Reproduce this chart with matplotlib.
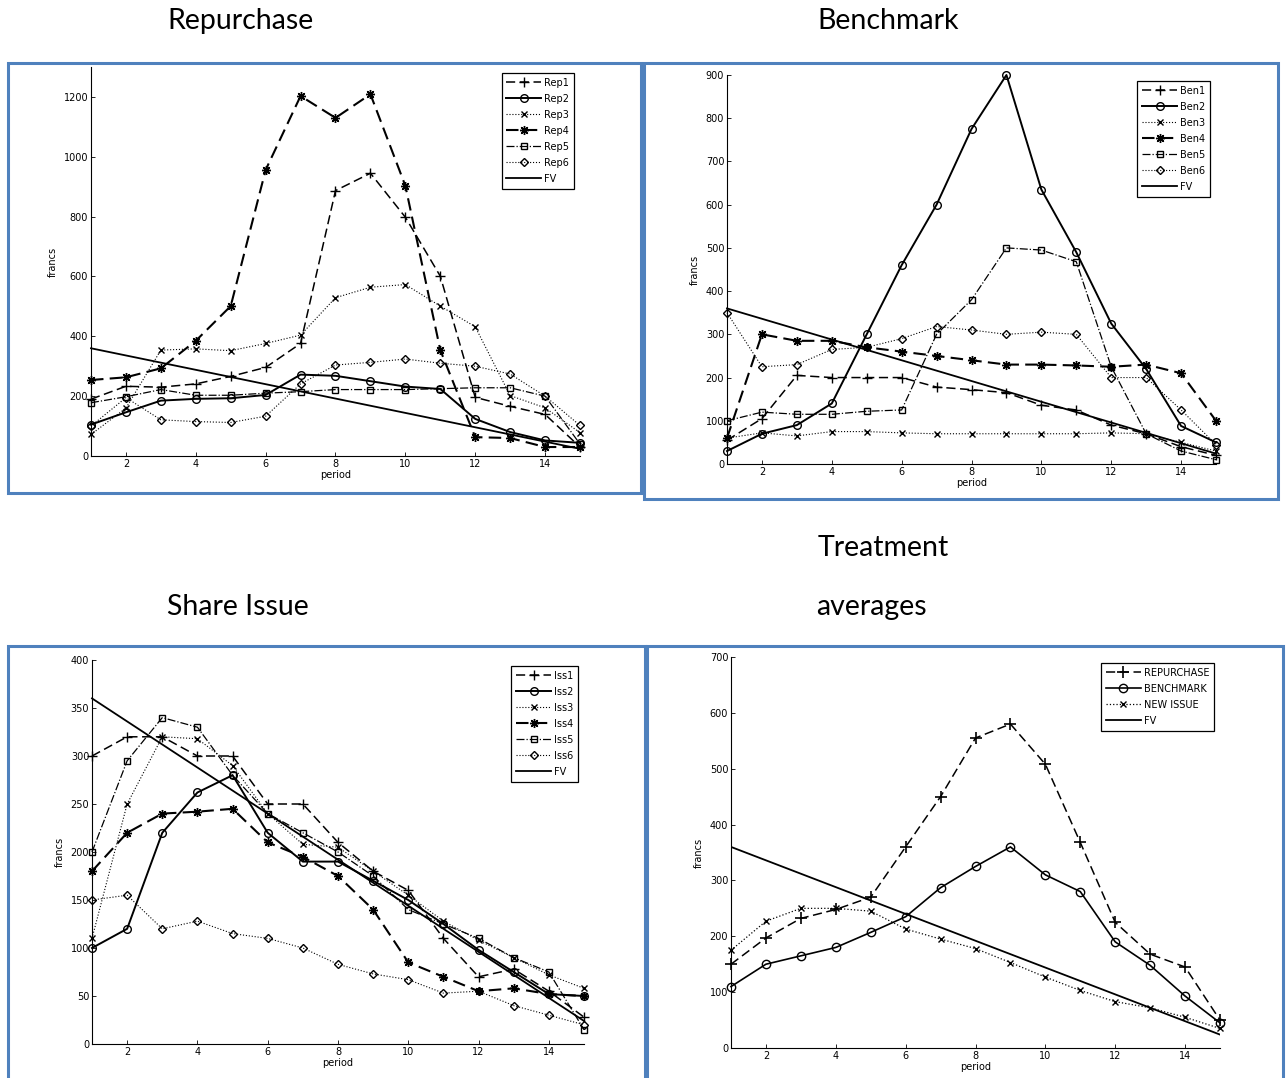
import numpy as np
import matplotlib.pyplot as plt
from matplotlib.patches import Rectangle

periods = np.arange(1, 16)

# fundamental value, declining each period
fv = [360, 336, 312, 288, 264, 240, 216, 192, 168, 144, 120, 96, 72, 48, 24]

# Repurchase sessions
rep1 = [190, 233, 230, 241, 266, 296, 376, 887, 945, 798, 601, 196, 166, 139, 30]
rep2 = [105, 146, 185, 191, 193, 204, 272, 268, 250, 232, 224, 124, 80, 52, 44]
rep3 = [72, 160, 354, 358, 352, 376, 404, 529, 564, 573, 501, 432, 202, 161, 78]
rep4 = [254, 263, 293, 385, 501, 956, 1203, 1130, 1209, 903, 354, 63, 60, 30, 30]
rep5 = [178, 198, 222, 203, 203, 210, 215, 222, 222, 222, 225, 228, 228, 200, 40]
rep6 = [100, 195, 121, 115, 112, 133, 241, 304, 313, 324, 310, 300, 274, 200, 102]

# Benchmark sessions
ben1 = [55, 105, 205, 200, 200, 200, 178, 172, 165, 136, 125, 90, 70, 40, 20]
ben2 = [30, 70, 90, 140, 300, 460, 600, 775, 900, 635, 490, 325, 220, 88, 50]
ben3 = [60, 72, 65, 75, 75, 72, 70, 70, 70, 70, 70, 72, 70, 50, 30]
ben4 = [60, 300, 285, 285, 270, 260, 250, 240, 230, 230, 228, 225, 230, 210, 100]
ben5 = [100, 120, 115, 115, 122, 125, 300, 380, 500, 495, 468, 225, 70, 30, 10]
ben6 = [350, 225, 230, 265, 270, 290, 318, 310, 300, 305, 300, 200, 200, 125, 45]

# Share issue sessions
iss1 = [300, 320, 320, 300, 300, 250, 250, 210, 180, 160, 110, 70, 78, 55, 28]
iss2 = [100, 120, 220, 262, 280, 220, 190, 190, 170, 150, 125, 98, 75, 52, 50]
iss3 = [110, 250, 320, 318, 290, 240, 208, 205, 180, 155, 128, 108, 90, 72, 58]
iss4 = [180, 220, 240, 242, 245, 210, 195, 175, 140, 85, 70, 55, 58, 52, 50]
iss5 = [200, 295, 340, 330, 280, 240, 220, 200, 175, 140, 125, 110, 90, 75, 15]
iss6 = [150, 155, 120, 128, 115, 110, 100, 83, 73, 67, 53, 55, 40, 30, 20]

# Treatment averages
avg_rep = [150, 197, 232, 248, 270, 360, 450, 555, 580, 508, 368, 225, 168, 145, 50]
avg_ben = [110, 150, 165, 180, 207, 235, 287, 325, 360, 310, 280, 190, 148, 93, 45]
avg_iss = [175, 227, 250, 250, 245, 213, 195, 178, 153, 127, 103, 83, 72, 55, 35]

W, H = 1286, 1078
fig = plt.figure(figsize=(W / 100, H / 100), dpi=100)

# matlab-like asterisk (lines, not a filled star)
ASTER = (8, 2, 0)

# (linestyle, marker, linewidth, markersize) for the six sessions
styles = [((0, (6, 3)), '+', 1.1, 7), ('-', 'o', 1.4, 5.5), (':', 'x', 0.8, 5),
          ((0, (6, 3)), ASTER, 1.5, 6.5), ('-.', 's', 0.9, 5), (':', 'D', 0.8, 4.5)]


def fpos(x0, x1, y0, y1):
    # pixel box -> figure fraction
    return [x0 / W, 1 - y1 / H, (x1 - x0) / W, (y1 - y0) / H]


def setup(ax, ymax, yticks):
    ax.set_xlim(1, 15)
    ax.set_ylim(0, ymax)
    ax.set_xticks(range(2, 15, 2))
    ax.set_yticks(yticks)
    ax.spines['top'].set_visible(False)
    ax.spines['right'].set_visible(False)
    ax.tick_params(direction='in', labelsize=7, length=3, width=0.6, pad=2)
    ax.set_xlabel('period', fontsize=7, labelpad=1)
    ax.set_ylabel('francs', fontsize=7, labelpad=4)


def add_legend(ax):
    leg = ax.legend(loc='upper right', fontsize=7, handlelength=3.6,
                    fancybox=False, edgecolor='black', framealpha=1,
                    borderpad=0.5, labelspacing=0.62, handletextpad=0.3,
                    borderaxespad=0.6)
    leg.get_frame().set_linewidth(0.9)


def draw(ax, series, labels):
    for s, lab, (ls, mk, lw, ms) in zip(series, labels, styles):
        ax.plot(periods, s, linestyle=ls, marker=mk, color='black', lw=lw,
                markerfacecolor='none', markeredgewidth=1.0, markersize=ms,
                label=lab, clip_on=False)
    ax.plot(periods, fv, '-', color='black', lw=1.3, label='FV', clip_on=False)
    add_legend(ax)


ax1 = fig.add_axes(fpos(91, 580, 67, 456))
draw(ax1, [rep1, rep2, rep3, rep4, rep5, rep6],
     ['Rep1', 'Rep2', 'Rep3', 'Rep4', 'Rep5', 'Rep6'])
setup(ax1, 1300, range(0, 1201, 200))

ax2 = fig.add_axes(fpos(727, 1216, 75, 464))
draw(ax2, [ben1, ben2, ben3, ben4, ben5, ben6],
     ['Ben1', 'Ben2', 'Ben3', 'Ben4', 'Ben5', 'Ben6'])
setup(ax2, 900, range(0, 901, 100))

ax3 = fig.add_axes(fpos(92, 584, 660, 1044))
draw(ax3, [iss1, iss2, iss3, iss4, iss5, iss6],
     ['Iss1', 'Iss2', 'Iss3', 'Iss4', 'Iss5', 'Iss6'])
setup(ax3, 400, range(0, 401, 50))

ax4 = fig.add_axes(fpos(731, 1220, 657, 1048))
ax4.plot(periods, avg_rep, linestyle=(0, (6, 3)), marker='+', color='black',
         lw=1.1, markersize=8, markeredgewidth=1.2, label='REPURCHASE',
         clip_on=False)
ax4.plot(periods, avg_ben, '-', marker='o', color='black', lw=1.2,
         markersize=6, markerfacecolor='none', markeredgewidth=1.0,
         label='BENCHMARK', clip_on=False)
ax4.plot(periods, avg_iss, ':', marker='x', color='black', lw=0.9,
         markersize=5, markeredgewidth=1.0, label='NEW ISSUE', clip_on=False)
ax4.plot(periods, fv, '-', color='black', lw=1.3, label='FV')
add_legend(ax4)
setup(ax4, 700, range(0, 701, 100))

# blue frames around each panel
blue = '#4f81bd'
for x0, y0, x1, y1 in [(8, 63, 641, 493), (644, 63, 1278, 499),
                       (8, 646, 645, 1082), (647, 646, 1283, 1082)]:
    fig.patches.append(Rectangle((x0 / W, 1 - y1 / H), (x1 - x0) / W,
                                 (y1 - y0) / H, transform=fig.transFigure,
                                 fill=False, edgecolor=blue, lw=2.2))

title_kw = dict(fontsize=20.5, family='Lato', ha='center', va='center')
fig.text(241 / W, 1 - 21 / H, 'Repurchase', **title_kw)
fig.text(888 / W, 1 - 21 / H, 'Benchmark', **title_kw)
fig.text(238 / W, 1 - 607 / H, 'Share Issue', **title_kw)
fig.text(883 / W, 1 - 548 / H, 'Treatment', **title_kw)
fig.text(871 / W, 1 - 607 / H, 'averages', **title_kw)

plt.savefig('out.png', dpi=100)
